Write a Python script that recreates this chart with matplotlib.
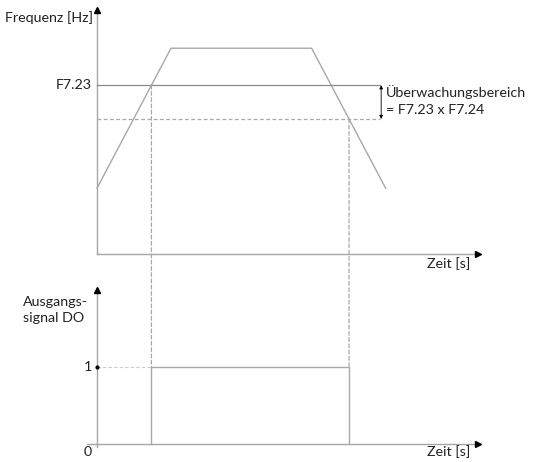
import numpy as np
import matplotlib
matplotlib.use('Agg')
import matplotlib.pyplot as plt
from matplotlib.patches import ConnectionPatch

plt.rcParams['font.family'] = ['Lato', 'DejaVu Sans']

# frequency ramp (time in s, frequency in Hz)
ramp_t = [0.0, 2.0, 5.8, 7.8]
ramp_f = [16.0, 50.0, 50.0, 16.0]
f723 = 41.0          # detection level F7.23
f724 = 0.8           # factor F7.24
t_max = 10.4
f_max = 60.5
do_levels = [0, 1]

GRID = '#a6a6a6'
LINE = '#a8a8a8'
TXT = '#222222'
FS = 10.3

f_low = f723 * f724
# switch-on: rising edge crosses F7.23, switch-off: falling edge crosses F7.23*F7.24
t_on = np.interp(f723, ramp_f[:2], ramp_t[:2])
t_off = np.interp(f_low, ramp_f[3:1:-1], ramp_t[3:1:-1])

fig = plt.figure(figsize=(5.34, 4.62), dpi=100)
W, H = 534, 462
px_t = 37.0
left = (97 - 0.3 * px_t) / W
width = (t_max + 0.3) * px_t / W

ax1 = fig.add_axes([left, (H - 254) / H, width, 249 / H])
ax2 = fig.add_axes([left, (H - 447.85) / H, width, 2.1 * 77 / H])
for ax in (ax1, ax2):
    ax.set_axis_off()
    ax.set_xlim(-0.3, t_max)
ax1.set_ylim(0, f_max)
ax2.set_ylim(-0.05, 2.05)

# top diagram axes
ax1.plot([0, 0], [0, f_max - 1.2], color=GRID, lw=1.0, clip_on=False)
ax1.plot(0, f_max - 1.2, marker='^', color='black', ms=5, clip_on=False)
ax1.plot([0, t_max - 0.1], [0, 0], color=GRID, lw=1.0, clip_on=False)
ax1.plot(t_max - 0.1, 0, marker='>', color='black', ms=5, clip_on=False)

ax1.plot(ramp_t, ramp_f, color=LINE, lw=1.0, clip_on=False)
ax1.plot([0, 7.65], [f723, f723], color='#8a8a8a', lw=0.9)
ax1.plot([0, 7.65], [f_low, f_low], color=LINE, lw=0.9, ls=(0, (3, 2)))

ax1.annotate('', xy=(7.68, f723), xytext=(7.68, f_low),
             arrowprops=dict(arrowstyle='<|-|>', color='black', lw=0.6,
                             mutation_scale=5, shrinkA=0, shrinkB=0))
ax1.text(7.8, 39.3, 'Überwachungsbereich', fontsize=FS, color=TXT, va='center')
ax1.text(7.8, 35.0, '= F7.23 x F7.24', fontsize=FS, color=TXT, va='center')

ax1.text(-0.11, 57.4, 'Frequenz [Hz]', fontsize=FS, color=TXT, ha='right', va='center')
ax1.text(-0.13, f723, 'F7.23', fontsize=FS, color=TXT, ha='right', va='center')
ax1.text(10.1, -0.8, 'Zeit [s]', fontsize=FS, color=TXT, ha='right', va='top')

# bottom diagram axes
ax2.plot([0, 0], [-0.04, 2.0], color=GRID, lw=1.0, clip_on=False)
ax2.plot(0, 2.0, marker='^', color='black', ms=5, clip_on=False)
ax2.plot([-0.27, t_max - 0.1], [0, 0], color=GRID, lw=1.0, clip_on=False)
ax2.plot(t_max - 0.1, 0, marker='>', color='black', ms=5, clip_on=False)

ax2.plot([0, t_on], [1, 1], color='#cccccc', lw=0.8, ls=(0, (3, 2)))
ax2.plot(0, 1, marker='o', color='black', ms=2)
ax2.plot([t_on, t_on, t_off, t_off], [do_levels[0], do_levels[1], do_levels[1], do_levels[0]],
         color=LINE, lw=1.0)

ax2.text(-2.0, 1.92, 'Ausgangs-\nsignal DO', fontsize=FS, color=TXT,
         ha='left', va='top', linespacing=1.35)
ax2.text(-0.13, 1, '1', fontsize=FS, color=TXT, ha='right', va='center')
ax2.text(-0.24, -0.1, '0', fontsize=FS, color=TXT, ha='center', va='center')
ax2.text(10.1, -0.02, 'Zeit [s]', fontsize=FS, color=TXT, ha='right', va='top')

# dashed links from the crossing points down to the output signal
for t, f in ((t_on, f723), (t_off, f_low)):
    con = ConnectionPatch(xyA=(t, f), coordsA=ax1.transData,
                          xyB=(t, 1), coordsB=ax2.transData,
                          color=LINE, lw=0.9, ls=(0, (3, 2)))
    fig.add_artist(con)

# caption line clipped at the top edge
fig.text(0.0, 1 + 2.5 / H, 'Zeitdiagramm: Frequenzerkennung und Ausgangssignal DO',
         fontsize=FS, color=TXT, ha='left', va='baseline')

fig.savefig('out.png', dpi=100)
